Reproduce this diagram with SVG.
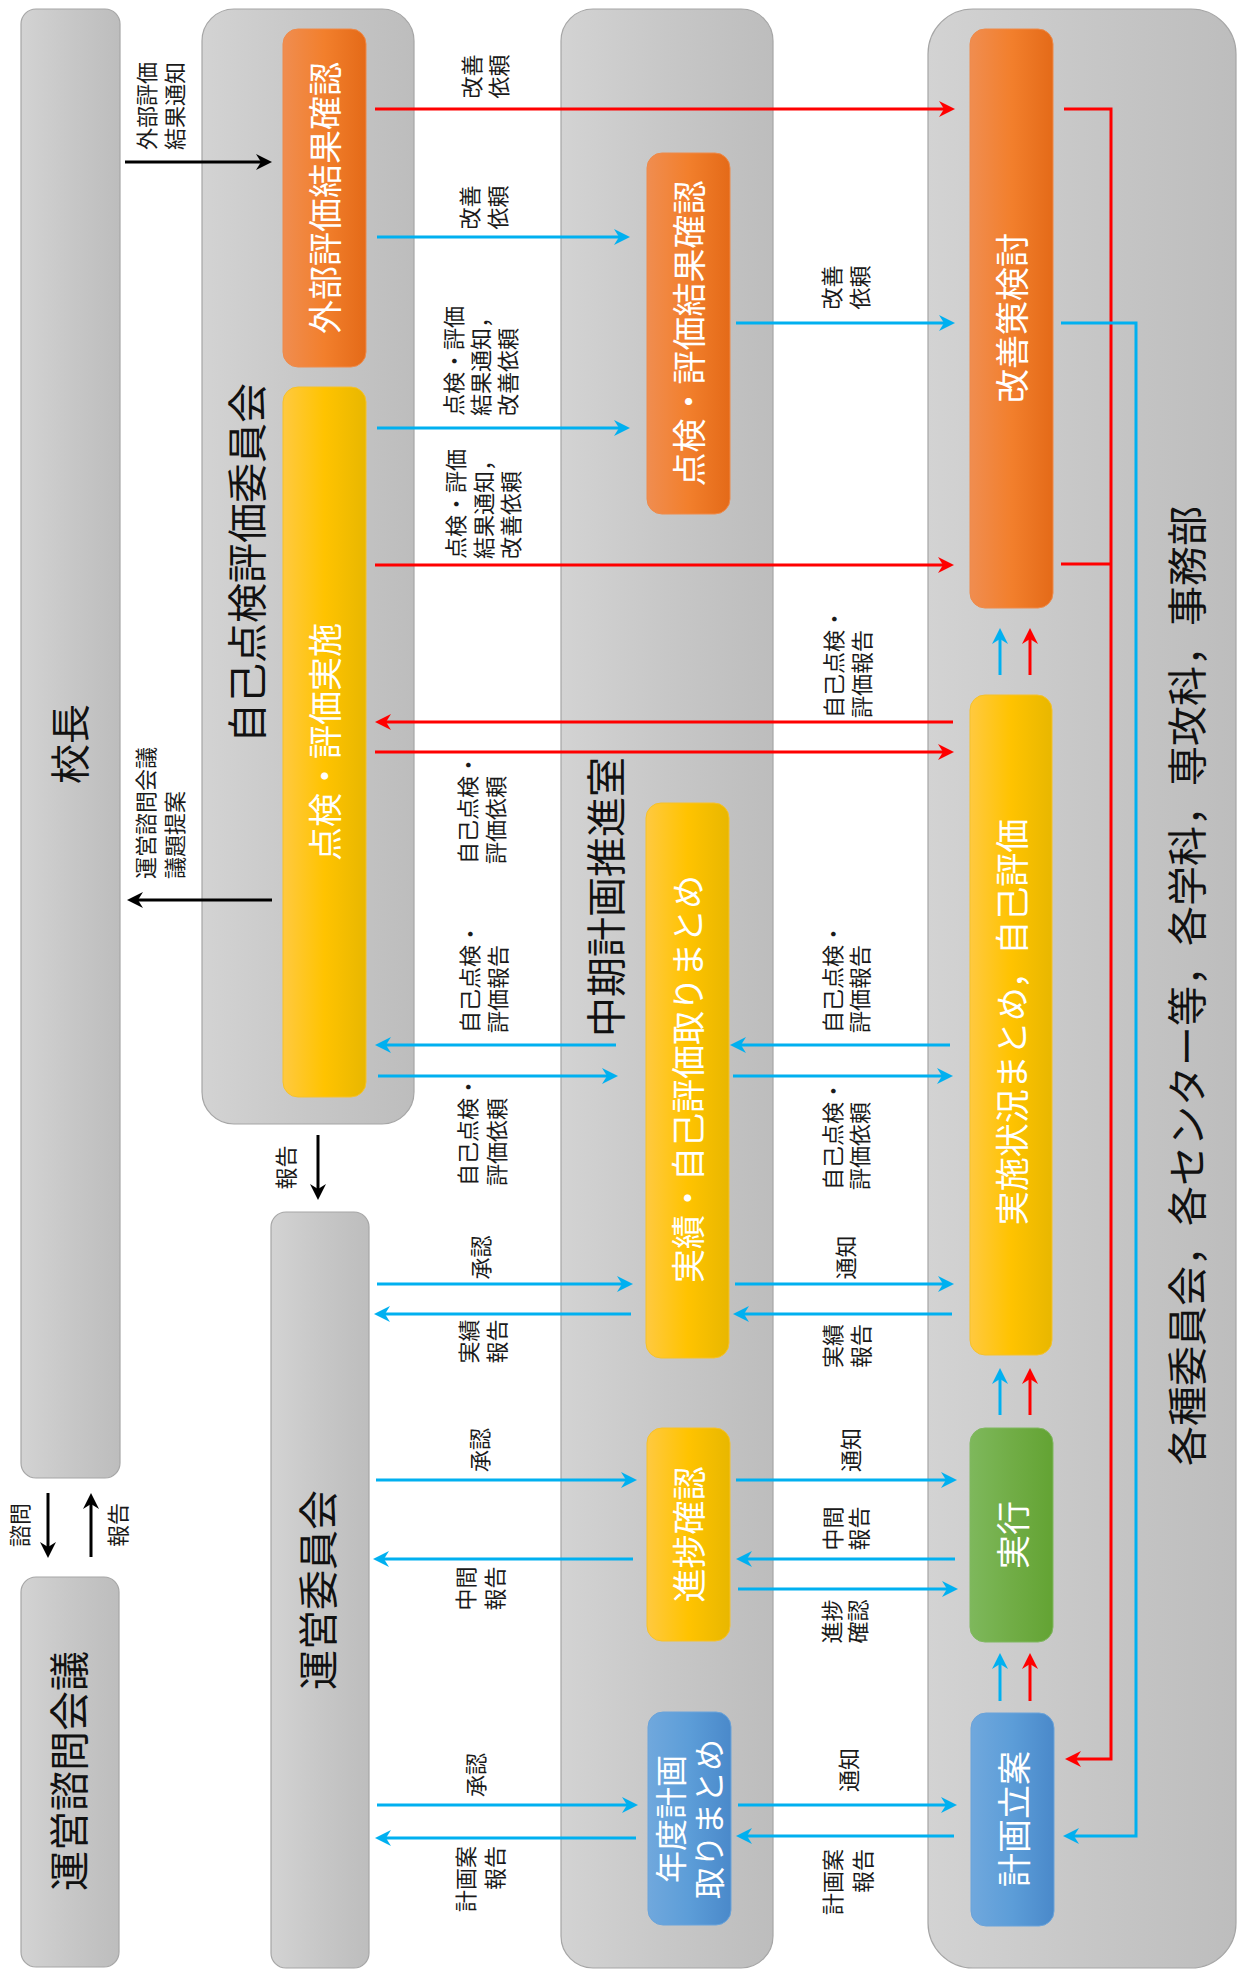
<svg xmlns="http://www.w3.org/2000/svg" width="1237" height="1973" viewBox="0 0 1237 1973">
<defs>
<linearGradient id="gGray" x1="0" y1="0" x2="1" y2="0"><stop offset="0" stop-color="#D3D3D3"/><stop offset="0.5" stop-color="#C7C7C7"/><stop offset="1" stop-color="#BDBDBD"/></linearGradient>
<linearGradient id="gOrange" x1="0" y1="0" x2="1" y2="0"><stop offset="0" stop-color="#F08D50"/><stop offset="0.5" stop-color="#F27F2C"/><stop offset="1" stop-color="#E46A18"/></linearGradient>
<linearGradient id="gYellow" x1="0" y1="0" x2="1" y2="0"><stop offset="0" stop-color="#FFC940"/><stop offset="0.5" stop-color="#FFC300"/><stop offset="1" stop-color="#E8B700"/></linearGradient>
<linearGradient id="gGreen" x1="0" y1="0" x2="1" y2="0"><stop offset="0" stop-color="#7EB85C"/><stop offset="0.5" stop-color="#71AD46"/><stop offset="1" stop-color="#63A333"/></linearGradient>
<linearGradient id="gBlue" x1="0" y1="0" x2="1" y2="0"><stop offset="0" stop-color="#70A8DD"/><stop offset="0.5" stop-color="#5C9DD8"/><stop offset="1" stop-color="#4A89CA"/></linearGradient>
<marker id="ab" markerUnits="userSpaceOnUse" markerWidth="20" markerHeight="20" viewBox="0 -10 20 20" refX="5" refY="0" orient="auto"><path d="M0,-8 L16,0 L0,8 L5,0 Z" fill="#00B0F0"/></marker>
<marker id="ar" markerUnits="userSpaceOnUse" markerWidth="20" markerHeight="20" viewBox="0 -10 20 20" refX="5" refY="0" orient="auto"><path d="M0,-8 L16,0 L0,8 L5,0 Z" fill="#FF0000"/></marker>
<marker id="ak" markerUnits="userSpaceOnUse" markerWidth="20" markerHeight="20" viewBox="0 -10 20 20" refX="5" refY="0" orient="auto"><path d="M0,-8 L16,0 L0,8 L5,0 Z" fill="#000000"/></marker>
</defs>
<style>
text{font-family:"Noto Sans CJK JP","Noto Sans",sans-serif;dominant-baseline:central}
.grp{fill:url(#gGray);stroke:#A6A6A6;stroke-width:1.2}
.or{fill:url(#gOrange);stroke:#EE8A4A;stroke-width:1}
.ye{fill:url(#gYellow);stroke:#F6C12A;stroke-width:1}
.gr{fill:url(#gGreen);stroke:#80B860;stroke-width:1}
.bl{fill:url(#gBlue);stroke:#6AA3DA;stroke-width:1}
.gt{font-size:40px;fill:#111}
.nt{font-size:34px;fill:#FFFFFF}
.lb{font-size:22px;fill:#1A1A1A}
.cb{fill:none;stroke:#00B0F0;stroke-width:3;marker-end:url(#ab)}
.cbn{fill:none;stroke:#00B0F0;stroke-width:3}
.cr{fill:none;stroke:#FF0000;stroke-width:3;marker-end:url(#ar)}
.crn{fill:none;stroke:#FF0000;stroke-width:3}
.ck{fill:none;stroke:#000000;stroke-width:3;marker-end:url(#ak)}
</style>

<g id="group-kocho"><rect class="grp" x="21" y="9" width="99" height="1469" rx="15"/><text class="gt" transform="rotate(-90)" x="-744" y="68" text-anchor="middle">校長</text></g>
<g id="group-shimon"><rect class="grp" x="21" y="1577" width="98" height="390" rx="15"/><text class="gt" transform="rotate(-90)" x="-1771" y="67" text-anchor="middle">運営諮問会議</text></g>
<g id="group-jiko"><rect class="grp" x="202" y="9" width="212" height="1115" rx="32"/><text class="gt" transform="rotate(-90)" x="-563" y="245" text-anchor="middle">自己点検評価委員会</text></g>
<g id="group-unei"><rect class="grp" x="271" y="1212" width="98" height="756" rx="15"/><text class="gt" transform="rotate(-90)" x="-1590" y="316" text-anchor="middle">運営委員会</text></g>
<g id="group-chuki"><rect class="grp" x="561" y="9" width="212" height="1959" rx="32"/><text class="gt" transform="rotate(-90)" x="-897" y="604" text-anchor="middle">中期計画推進室</text></g>
<g id="group-kakushu"><rect class="grp" x="928" y="9" width="308" height="1959" rx="45"/><text class="gt" transform="rotate(-90)" x="-986" y="1185" text-anchor="middle">各種委員会，各センター等，各学科，専攻科，事務部</text></g>

<g id="connectors">
<path class="ck" d="M125,162 H261"/>
<path class="ck" d="M272,900 H138"/>
<path class="ck" d="M318,1135 V1189"/>
<path class="ck" d="M48,1493 V1547"/>
<path class="ck" d="M91,1557 V1504"/>

<path class="cr" d="M375,109 H944"/>
<path class="cr" d="M375,565 H943"/>
<path class="cr" d="M953,722 H386"/>
<path class="cr" d="M375,752 H943"/>
<path class="cr" d="M1064,109 H1111 V1759 H1076"/>
<path class="crn" d="M1061,564 H1111"/>
<path class="cr" d="M1030,675 V639"/>
<path class="cr" d="M1030,1415 V1379"/>
<path class="cr" d="M1030,1701 V1664"/>

<path class="cb" d="M377,237 H619"/>
<path class="cb" d="M377,428 H619"/>
<path class="cb" d="M736,323 H944"/>
<path class="cb" d="M1061,323 H1136 V1836 H1074"/>
<path class="cb" d="M616,1045 H386"/>
<path class="cb" d="M378,1076 H607"/>
<path class="cb" d="M950,1045 H741"/>
<path class="cb" d="M733,1076 H942"/>
<path class="cb" d="M377,1284 H622"/>
<path class="cb" d="M735,1284 H943"/>
<path class="cb" d="M631,1314 H385"/>
<path class="cb" d="M952,1314 H744"/>
<path class="cb" d="M376,1480 H626"/>
<path class="cb" d="M736,1480 H946"/>
<path class="cb" d="M633,1559 H384"/>
<path class="cb" d="M955,1559 H747"/>
<path class="cb" d="M738,1589 H947"/>
<path class="cb" d="M377,1805 H627"/>
<path class="cb" d="M738,1805 H946"/>
<path class="cb" d="M636,1838 H386"/>
<path class="cb" d="M954,1836 H747"/>
<path class="cb" d="M1000,675 V639"/>
<path class="cb" d="M1000,1415 V1379"/>
<path class="cb" d="M1000,1701 V1664"/>
</g>

<g id="connector-labels">
<text class="lb" transform="rotate(-90)" text-anchor="middle"><tspan x="-106" y="144.5">外部評価</tspan><tspan x="-106" y="172.5">結果通知</tspan></text>
<text class="lb" transform="rotate(-90)" text-anchor="start"><tspan x="-879" y="144">運営諮問会議</tspan><tspan x="-879" y="172.5">議題提案</tspan></text>
<text class="lb" transform="rotate(-90)" x="-1167.5" y="284" text-anchor="middle">報告</text>
<text class="lb" transform="rotate(-90)" x="-1525" y="18" text-anchor="middle">諮問</text>
<text class="lb" transform="rotate(-90)" x="-1525" y="116" text-anchor="middle">報告</text>

<text class="lb" transform="rotate(-90)" text-anchor="middle"><tspan x="-76.5" y="470">改善</tspan><tspan x="-76.5" y="496.5">依頼</tspan></text>
<text class="lb" transform="rotate(-90)" text-anchor="middle"><tspan x="-207.5" y="468">改善</tspan><tspan x="-207.5" y="496">依頼</tspan></text>
<text class="lb" transform="rotate(-90)" text-anchor="start"><tspan x="-416" y="451.5">点検・評価</tspan><tspan x="-416" y="478.5">結果通知，</tspan><tspan x="-416" y="506">改善依頼</tspan></text>
<text class="lb" transform="rotate(-90)" text-anchor="start"><tspan x="-559" y="454">点検・評価</tspan><tspan x="-559" y="482">結果通知，</tspan><tspan x="-559" y="509">改善依頼</tspan></text>
<text class="lb" transform="rotate(-90)" text-anchor="start"><tspan x="-864" y="466">自己点検・</tspan><tspan x="-864" y="494">評価依頼</tspan></text>
<text class="lb" transform="rotate(-90)" text-anchor="start"><tspan x="-1033" y="467.5">自己点検・</tspan><tspan x="-1033" y="496">評価報告</tspan></text>
<text class="lb" transform="rotate(-90)" text-anchor="start"><tspan x="-1186" y="466">自己点検・</tspan><tspan x="-1186" y="495">評価依頼</tspan></text>
<text class="lb" transform="rotate(-90)" x="-1257.5" y="479" text-anchor="middle">承認</text>
<text class="lb" transform="rotate(-90)" text-anchor="middle"><tspan x="-1341.5" y="467">実績</tspan><tspan x="-1341.5" y="495">報告</tspan></text>
<text class="lb" transform="rotate(-90)" x="-1450" y="477.5" text-anchor="middle">承認</text>
<text class="lb" transform="rotate(-90)" text-anchor="middle"><tspan x="-1588.5" y="464">中間</tspan><tspan x="-1588.5" y="492.5">報告</tspan></text>
<text class="lb" transform="rotate(-90)" x="-1775" y="474" text-anchor="middle">承認</text>
<text class="lb" transform="rotate(-90)" text-anchor="end"><tspan x="-1846" y="464">計画案</tspan><tspan x="-1846" y="492.5">報告</tspan></text>

<text class="lb" transform="rotate(-90)" text-anchor="middle"><tspan x="-287.5" y="830">改善</tspan><tspan x="-287.5" y="858">依頼</tspan></text>
<text class="lb" transform="rotate(-90)" text-anchor="start"><tspan x="-718" y="831.5">自己点検・</tspan><tspan x="-718" y="860">評価報告</tspan></text>
<text class="lb" transform="rotate(-90)" text-anchor="start"><tspan x="-1033" y="831">自己点検・</tspan><tspan x="-1033" y="858">評価報告</tspan></text>
<text class="lb" transform="rotate(-90)" text-anchor="start"><tspan x="-1190" y="831">自己点検・</tspan><tspan x="-1190" y="858">評価依頼</tspan></text>
<text class="lb" transform="rotate(-90)" x="-1257.5" y="844" text-anchor="middle">通知</text>
<text class="lb" transform="rotate(-90)" text-anchor="middle"><tspan x="-1346" y="831">実績</tspan><tspan x="-1346" y="859">報告</tspan></text>
<text class="lb" transform="rotate(-90)" x="-1450" y="849" text-anchor="middle">通知</text>
<text class="lb" transform="rotate(-90)" text-anchor="middle"><tspan x="-1528.5" y="831">中間</tspan><tspan x="-1528.5" y="856.5">報告</tspan></text>
<text class="lb" transform="rotate(-90)" text-anchor="middle"><tspan x="-1621.5" y="830">進捗</tspan><tspan x="-1621.5" y="856">確認</tspan></text>
<text class="lb" transform="rotate(-90)" x="-1770" y="847" text-anchor="middle">通知</text>
<text class="lb" transform="rotate(-90)" text-anchor="end"><tspan x="-1849" y="831">計画案</tspan><tspan x="-1849" y="861">報告</tspan></text>
</g>

<g id="node-gaibu"><rect class="or" x="283" y="29" width="83" height="338" rx="15"/><text class="nt" transform="rotate(-90)" x="-198" y="323" text-anchor="middle">外部評価結果確認</text></g>
<g id="node-tenken-jisshi"><rect class="ye" x="283" y="387" width="83" height="710" rx="15"/><text class="nt" transform="rotate(-90)" x="-742" y="323" text-anchor="middle">点検・評価実施</text></g>
<g id="node-tenken-kakunin"><rect class="or" x="647" y="153" width="83" height="361" rx="15"/><text class="nt" transform="rotate(-90)" x="-333.5" y="687" text-anchor="middle">点検・評価結果確認</text></g>
<g id="node-jisseki"><rect class="ye" x="646" y="803" width="83" height="555" rx="15"/><text class="nt" transform="rotate(-90)" x="-1079" y="686" text-anchor="middle">実績・自己評価取りまとめ</text></g>
<g id="node-shinchoku"><rect class="ye" x="647" y="1428" width="83" height="213" rx="15"/><text class="nt" transform="rotate(-90)" x="-1534.5" y="687" text-anchor="middle">進捗確認</text></g>
<g id="node-nendo"><rect class="bl" x="648" y="1712" width="83" height="213" rx="15"/><text class="nt" style="font-size:32px" transform="rotate(-90)" text-anchor="middle"><tspan x="-1819" y="668.5">年度計画</tspan><tspan x="-1819" y="706.5">取りまとめ</tspan></text></g>
<g id="node-kaizen"><rect class="or" x="970" y="29" width="83" height="579" rx="15"/><text class="nt" transform="rotate(-90)" x="-318" y="1010" text-anchor="middle">改善策検討</text></g>
<g id="node-jisshi-jokyo"><rect class="ye" x="970" y="695" width="82" height="660" rx="15"/><text class="nt" transform="rotate(-90)" x="-1022" y="1010" text-anchor="middle">実施状況まとめ，自己評価</text></g>
<g id="node-jikko"><rect class="gr" x="970" y="1428" width="83" height="214" rx="15"/><text class="nt" transform="rotate(-90)" x="-1535" y="1011" text-anchor="middle">実行</text></g>
<g id="node-keikaku"><rect class="bl" x="971" y="1713" width="83" height="213" rx="15"/><text class="nt" transform="rotate(-90)" x="-1819" y="1012" text-anchor="middle">計画立案</text></g>
</svg>
